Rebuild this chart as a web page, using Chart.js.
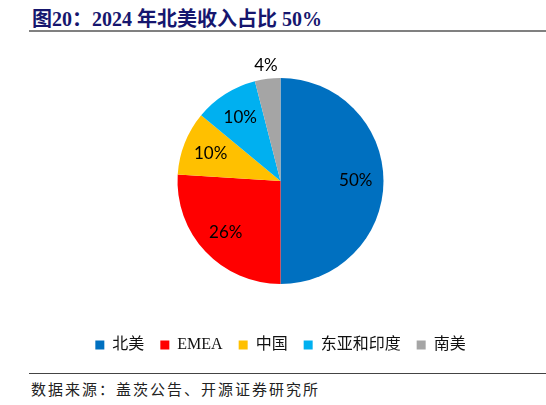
<!DOCTYPE html>
<html>
<head>
<meta charset="utf-8">
<script src="https://cdn.jsdelivr.net/npm/chart.js@4.4.1/dist/chart.umd.min.js"></script>
<style>
  body { margin: 0; background: #fff; width: 546px; height: 405px; position: relative; overflow: hidden; }
  #title { position: absolute; left: 32px; top: 3px; font: bold 20px 'Liberation Serif', 'Noto Sans CJK SC', serif; color: #16166e; white-space: nowrap; }
  #topline { position: absolute; left: 29px; top: 30px; width: 517px; height: 2px; background: #808080; }
  #botline { position: absolute; left: 29px; top: 373px; width: 517px; height: 1px; background: #444; }
  #source { position: absolute; left: 31px; top: 378px; font: 15px 'Noto Sans CJK SC', sans-serif; letter-spacing: 2px; color: #222; white-space: nowrap; }
  #wrap { position: absolute; left: 0; top: 35px; width: 546px; height: 328px; }
</style>
</head>
<body>
<div id="title">图20：2024 年北美收入占比 50%</div>
<div id="topline"></div>
<div id="wrap"><canvas id="pie"></canvas></div>
<div id="botline"></div>
<div id="source">数据来源：盖茨公告、开源证券研究所</div>
<script>
// 各地区收入占比（%）
const regions = ['北美', 'EMEA', '中国', '东亚和印度', '南美'];
const shares = [50, 26, 10, 10, 4];
const colors = ['#0070C0', '#FF0000', '#FFC000', '#00B0F0', '#A5A5A5'];

// 标签画在扇区上，小扇区放到外面
const sliceLabels = {
    id: 'sliceLabels',
    afterDatasetsDraw(chart) {
        const ctx = chart.ctx;
        const meta = chart.getDatasetMeta(0);
        ctx.save();
        ctx.font = '17px Lato, "Open Sans", sans-serif';
        ctx.fillStyle = '#000';
        ctx.textAlign = 'center';
        ctx.textBaseline = 'middle';
        meta.data.forEach((arc, i) => {
            const mid = (arc.startAngle + arc.endAngle) / 2;
            const k = shares[i] < 5 ? 1.13 : 0.73;
            const x = arc.x + Math.cos(mid) * arc.outerRadius * k;
            const y = arc.y + Math.sin(mid) * arc.outerRadius * k;
            ctx.fillText(shares[i] + '%', x, y);
        });
        ctx.restore();
    }
};

new Chart(document.getElementById('pie').getContext('2d'), {
    type: 'pie',
    data: {
        labels: regions,
        datasets: [{
            data: shares,
            backgroundColor: colors,
            borderWidth: 0,
            radius: 103
        }]
    },
    options: {
        responsive: true,
        maintainAspectRatio: false,
        animation: false,
        layout: { padding: { top: 6, bottom: 0, left: 15, right: 0 } },
        plugins: {
            legend: {
                position: 'bottom',
                labels: {
                    boxWidth: 9,
                    boxHeight: 9,
                    padding: 16,
                    color: '#111',
                    font: { size: 16, family: "'Liberation Serif', 'Noto Sans CJK SC', serif" }
                }
            },
            tooltip: { enabled: false }
        }
    },
    plugins: [sliceLabels]
});
</script>
</body>
</html>
